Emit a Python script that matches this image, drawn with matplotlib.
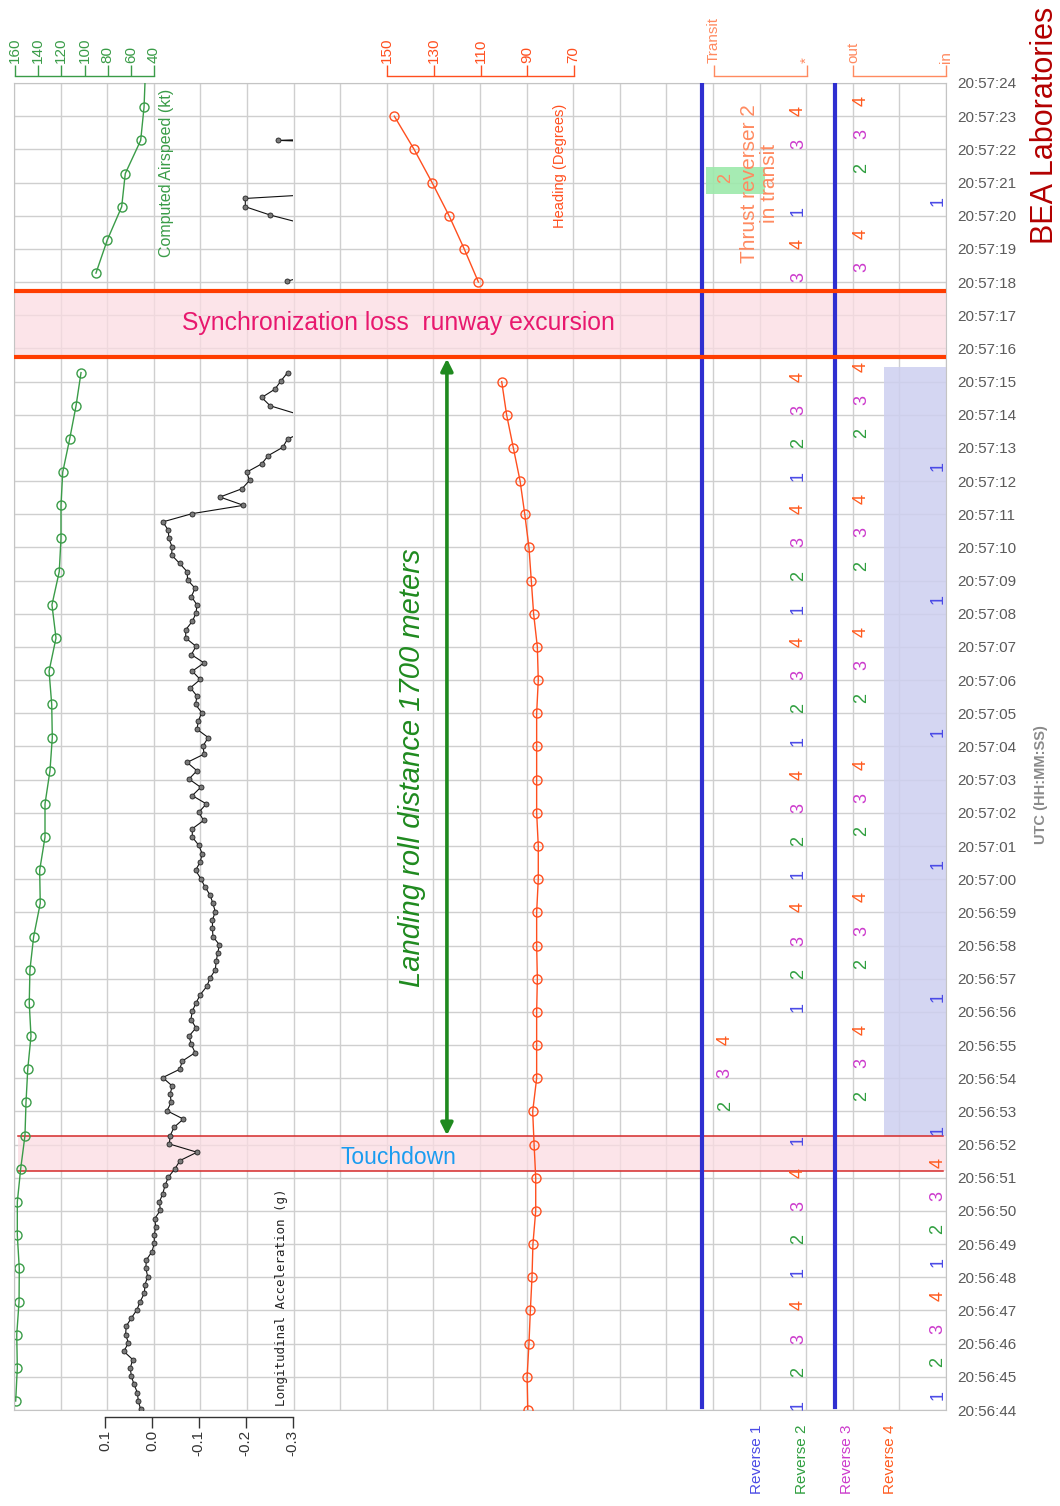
import matplotlib
matplotlib.use("Agg")
import matplotlib.pyplot as plt
import numpy as np
from matplotlib.patches import Rectangle

plt.rcParams['font.family'] = ['Liberation Sans', 'DejaVu Sans']
plt.rcParams['axes.unicode_minus'] = False

# ---------------------------------------------------------------- data
TIME_LABELS = ["20:56:44", "20:56:45", "20:56:46", "20:56:47", "20:56:48", "20:56:49",
               "20:56:50", "20:56:51", "20:56:52", "20:56:53", "20:56:54", "20:56:55",
               "20:56:56", "20:56:57", "20:56:58", "20:56:59", "20:57:00", "20:57:01",
               "20:57:02", "20:57:03", "20:57:04", "20:57:05", "20:57:06", "20:57:07",
               "20:57:08", "20:57:09", "20:57:10", "20:57:11", "20:57:12", "20:57:13",
               "20:57:14", "20:57:15", "20:57:16", "20:57:17", "20:57:18", "20:57:19",
               "20:57:20", "20:57:21", "20:57:22", "20:57:23", "20:57:24"]

# Computed airspeed (kt), 1 Hz, sampled at second + 0.27
AS_SECONDS_LOW = list(range(0, 32))
AS_LOW = [159.4, 158.0, 158.5, 156.5, 156.3, 158.0, 158.0, 155.1, 151.4, 150.5,
          149.0, 146.2, 147.7, 147.1, 143.9, 138.2, 138.7, 134.1, 134.1, 129.8,
          127.8, 128.3, 130.6, 124.6, 128.1, 121.8, 120.3, 120.3, 118.8, 112.8,
          107.3, 103.0]
AS_SECONDS_HIGH = [34, 35, 36, 37, 38, 39, 40]
AS_HIGH = [90.1, 80.3, 67.9, 64.8, 51.5, 48.6, 47.5]
AS_PHASE = 0.27

# Heading (deg), 1 Hz
HDG_SECONDS_LOW = list(range(0, 32))
HDG_LOW = [89.7, 90.0, 89.2, 88.6, 87.9, 87.5, 86.3, 86.3, 87.0, 87.6,
           85.9, 85.9, 85.9, 85.6, 85.9, 85.9, 85.2, 85.2, 85.9, 85.9,
           85.9, 85.9, 85.2, 85.6, 87.2, 88.2, 89.2, 91.0, 93.0, 95.9,
           98.8, 100.9]
HDG_SECONDS_HIGH = [34, 35, 36, 37, 38, 39]
HDG_HIGH = [110.9, 117.0, 123.5, 130.8, 138.5, 147.0]

# Longitudinal acceleration (g), 4 Hz
ACC_START_LOW = 0.02
ACC_LOW = [0.024, 0.029, 0.031, 0.038, 0.044, 0.046, 0.041, 0.060, 0.050, 0.056,
           0.055, 0.044, 0.032, 0.025, 0.016, 0.015, 0.009, 0.013, 0.012, 0.000,
           -0.005, -0.005, -0.008, -0.006, -0.018, -0.016, -0.023, -0.028, -0.035, -0.049,
           -0.060, -0.096, -0.037, -0.039, -0.047, -0.067, -0.032, -0.041,
           -0.039, -0.043, -0.023, -0.059, -0.065, -0.092, -0.084, -0.079, -0.094, -0.083,
           -0.086, -0.094, -0.103, -0.117, -0.124, -0.135, -0.137, -0.140, -0.144, -0.130,
           -0.129, -0.129, -0.135, -0.130, -0.124, -0.113, -0.104, -0.093, -0.103, -0.107,
           -0.100, -0.086, -0.086, -0.110, -0.100, -0.116, -0.086, -0.104, -0.079, -0.096,
           -0.075, -0.111, -0.109,
           -0.120, -0.096, -0.099, -0.106, -0.093, -0.096, -0.082, -0.103, -0.086, -0.111,
           -0.084, -0.094, -0.072, -0.072, -0.086, -0.094, -0.096, -0.084, -0.092, -0.076,
           -0.075, -0.059, -0.042, -0.043, -0.036, -0.035, -0.023, -0.086, -0.195, -0.145,
           -0.192, -0.208, -0.202, -0.234, -0.248, -0.279, -0.289,
           -0.330, -0.360, -0.310,
           -0.252, -0.234, -0.262, -0.275, -0.289]
ACC_START_HIGH = 34.02
ACC_HIGH = [-0.287, -0.350, -0.600, -0.600, -0.600, -0.600, -0.600, -0.320,
            -0.252, -0.199, -0.199, -0.500, -0.600, -0.600, -0.600, -0.600,
            -0.800, -0.268, -0.800, -0.600, -0.600, -0.600, -0.600, -0.600]
ACC_RATE = 4.0

# Thrust reverser discretes (digit = reverser number sampled that second)
REV_SECONDS = list(range(0, 32)) + [34, 35, 36, 37, 38, 39]
REV_DIGITS = [1, 2, 3, 4, 1, 2, 3, 4, 1, 2, 3, 4, 1, 2, 3, 4,
              1, 2, 3, 4, 1, 2, 3, 4, 1, 2, 3, 4, 1, 2, 3, 4,
              3, 4, 1, 2, 3, 4]
TRANSIT_POS = ['*', '*', '*', '*', '*', '*', '*', '*', '*', 'Transit', 'Transit', 'Transit',
               '*', '*', '*', '*', '*', '*', '*', '*', '*', '*', '*', '*', '*', '*', '*', '*',
               '*', '*', '*', '*',
               '*', '*', '*', 'Transit', '*', '*']
STOW_POS = ['in', 'in', 'in', 'in', 'in', 'in', 'in', 'in', 'in', 'out', 'out', 'out',
            'in', 'out', 'out', 'out', 'in', 'out', 'out', 'out', 'in', 'out', 'out', 'out',
            'in', 'out', 'out', 'out', 'in', 'out', 'out', 'out',
            'out', 'out', 'in', 'out', 'out', 'out']
TRANSIT_TICKS = ['Transit', '*']
STOW_TICKS = ['out', 'in']
REV_LABELS = ['Reverse 1', 'Reverse 2', 'Reverse 3', 'Reverse 4']
HIGHLIGHT_SECOND = 37

AS_TICKS = [160, 140, 120, 100, 80, 60, 40]
HDG_TICKS = [150, 130, 110, 90, 70]
ACC_TICKS = [0.1, 0.0, -0.1, -0.2, -0.3]
ACC_TICK_LABELS = ['0.1', '0.0', '-0.1', '-0.2', '-0.3']

# events (seconds after 20:56:44)
SYNC_LOSS = (31.74, 33.73)
TOUCHDOWN = (7.2, 8.26)
REV_DEPLOYED = (8.26, 31.45)

# ---------------------------------------------------------------- layout / style
W, H = 1060, 1506
fig = plt.figure(figsize=(W / 100, H / 100), dpi=100)
PLOT_T, PLOT_B = 83, 1410


def px_rect(x0, x1):
    return [x0 / W, 1 - PLOT_B / H, (x1 - x0) / W, (PLOT_B - PLOT_T) / H]


C_AS = '#3a9c48'
C_HDG = '#ff4f1f'
C_REV = '#ff8a60'
C_DIG = {1: '#4a4ae6', 2: '#2e9e3e', 3: '#cc3acc', 4: '#ff5a1e'}
GRID = '#cfcfcf'

# main axes: grid, time labels, annotations
ax = fig.add_axes(px_rect(14, 946))
ax.set_xlim(0, 20)
ax.set_ylim(0, 40)
ax.set_xticks(np.arange(21))
ax.set_yticks(np.arange(41))
ax.grid(True, color=GRID, lw=1.0)
ax.set_axisbelow(True)
ax.tick_params(axis='x', length=0, labelbottom=False)
ax.yaxis.tick_right()
ax.set_yticklabels(TIME_LABELS)
ax.tick_params(axis='y', length=0, pad=8, labelsize=11, labelcolor='#5a5a5a')
for s in ax.spines.values():
    s.set_color('#c4c4c4')

# reverser deployed region (lavender)
ax.add_patch(Rectangle((18.67, REV_DEPLOYED[0]), 20 - 18.67, REV_DEPLOYED[1] - REV_DEPLOYED[0],
                       facecolor='#cdcff0', edgecolor='none', alpha=0.85, zorder=1))
# sync loss band
ax.axhspan(*SYNC_LOSS, facecolor='#fbdce2', alpha=0.75, zorder=1)
# touchdown band
ax.axhspan(*TOUCHDOWN, xmin=0.004, facecolor='#fbdce2', alpha=0.75, zorder=1)
for yv in TOUCHDOWN:
    ax.axhline(yv, xmin=0.004, xmax=0.997, color='#d42a2a', lw=1.1, zorder=3)

# blue separator lines
for xc in (14.76, 17.62):
    ax.axvline(xc, ymin=0.002, ymax=1, color='#2f2fd0', lw=3, zorder=3)
for yv in SYNC_LOSS:
    ax.axhline(yv, color='#ff3d00', lw=3, zorder=4)

# green highlight box
ax.add_patch(Rectangle((14.85, 36.64), 1.27, 0.84, facecolor='#9de9ab', edgecolor='none',
                       alpha=0.9, zorder=2))

# landing roll arrow
ax.annotate('', xy=(9.29, SYNC_LOSS[0] - 0.05), xytext=(9.29, TOUCHDOWN[1] + 0.02),
            arrowprops=dict(arrowstyle='<|-|>', color='#1f8a1f', lw=2.6,
                            mutation_scale=18, shrinkA=0, shrinkB=0), zorder=5)
ax.text(8.54, 19.35, 'Landing roll distance 1700 meters', rotation=90, color='#1f8a1f',
        fontsize=21, style='italic', ha='center', va='center', zorder=5)
ax.text(8.24, 32.77, 'Synchronization loss  runway excursion', color='#e8186e',
        fontsize=17.8, ha='center', va='center', zorder=5)
ax.text(8.26, 7.62, 'Touchdown', color='#1a9cf0', fontsize=16.5, ha='center', va='center',
        zorder=5)
ax.text(16.0, 36.98, 'Thrust reverser 2\nin transit', rotation=90, color=C_REV,
        fontsize=15, ha='center', va='center', linespacing=1.05, zorder=5,
        multialignment='center')
ax.text(11.72, 37.5, 'Heading (Degrees)', rotation=90, color=C_HDG, fontsize=10.5,
        ha='center', va='center')
ax.text(3.28, 37.3, 'Computed Airspeed (kt)', rotation=90, color=C_AS, fontsize=11.5,
        ha='center', va='center')
ax.text(5.75, 3.41, 'Longitudinal Acceleration (g)', rotation=90, color='#222222',
        fontsize=9, family='DejaVu Sans Mono', ha='center', va='center')


def overlay(x0, x1):
    a = fig.add_axes(px_rect(x0, x1))
    a.patch.set_visible(False)
    a.set_ylim(0, 40)
    a.set_yticks([])
    for s in a.spines.values():
        s.set_visible(False)
    return a


def scale_bar(a, side, ticks, labels, color):
    sp = a.spines[side]
    sp.set_visible(True)
    sp.set_position(('outward', 7 * 0.72))
    sp.set_color(color)
    sp.set_linewidth(1.0)
    a.set_xticks(ticks)
    a.set_xticklabels(labels)
    if side == 'top':
        a.xaxis.tick_top()
    else:
        a.xaxis.tick_bottom()
    a.tick_params(axis='x', direction='out', length=8, width=1, color=color,
                  labelcolor=color, labelsize=11, pad=1.5, labelrotation=90)


# airspeed
ax_as = overlay(15, 154)
ax_as.set_xlim(AS_TICKS[0], AS_TICKS[-1])
scale_bar(ax_as, 'top', AS_TICKS, [str(v) for v in AS_TICKS], C_AS)
for secs, vals in ((AS_SECONDS_LOW, AS_LOW), (AS_SECONDS_HIGH, AS_HIGH)):
    ax_as.plot(vals, np.array(secs) + AS_PHASE, color=C_AS, lw=1.0, marker='o',
               mfc='none', mec=C_AS, ms=6.5, mew=1.0)

# acceleration
ax_acc = overlay(105, 292.7)
ax_acc.set_xlim(ACC_TICKS[0], ACC_TICKS[-1])
scale_bar(ax_acc, 'bottom', ACC_TICKS, ACC_TICK_LABELS, '#333333')
for start, vals in ((ACC_START_LOW, ACC_LOW), (ACC_START_HIGH, ACC_HIGH)):
    tt = start + np.arange(len(vals)) / ACC_RATE
    ax_acc.plot(vals, tt, color='#111111', lw=0.8, marker='o', ms=3.6,
                mfc='#7a7a7a', mec='#222222', mew=0.6)

# heading
ax_hdg = overlay(387.3, 573.7)
ax_hdg.set_xlim(HDG_TICKS[0], HDG_TICKS[-1])
scale_bar(ax_hdg, 'top', HDG_TICKS, [str(v) for v in HDG_TICKS], C_HDG)
for secs, vals in ((HDG_SECONDS_LOW, HDG_LOW), (HDG_SECONDS_HIGH, HDG_HIGH)):
    ax_hdg.plot(vals, secs, color=C_HDG, lw=1.0, marker='o', mfc='none', mec=C_HDG,
                ms=6.5, mew=1.0)

# reverser discretes
ax_tr = overlay(714, 807)
ax_tr.set_xlim(0, 1)
scale_bar(ax_tr, 'top', [0, 1], TRANSIT_TICKS, C_REV)
ax_st = overlay(853, 946.5)
ax_st.set_xlim(0, 1)
scale_bar(ax_st, 'top', [0, 1], STOW_TICKS, C_REV)
for sec, dig, tp, sp in zip(REV_SECONDS, REV_DIGITS, TRANSIT_POS, STOW_POS):
    xv = TRANSIT_TICKS.index(tp)
    col = C_REV if sec == HIGHLIGHT_SECOND else C_DIG[dig]
    ax_tr.text(xv + (0.03 if xv == 0 else 0), sec, str(dig), rotation=90, color=col,
               fontsize=13, ha='left' if xv == 0 else 'right', va='bottom', zorder=6)
    xv = STOW_TICKS.index(sp)
    ax_st.text(xv, sec + 0.3, str(dig), rotation=90, color=C_DIG[dig], fontsize=13,
               ha='left' if xv == 0 else 'right', va='bottom', zorder=6)

# figure level texts
fig.text(1045 / W, 1 - 125 / H, 'BEA Laboratories', rotation=90, color='#b30000',
         fontsize=22, ha='center', va='center')
fig.text(1041 / W, 1 - 785 / H, 'UTC (HH:MM:SS)', rotation=90, color='#8a8a8a',
         fontsize=10.5, fontweight='bold', ha='center', va='center')
for xp, lab, dig in zip((757, 802, 847, 890), REV_LABELS, (1, 2, 3, 4)):
    fig.text(xp / W, 1 - 1425 / H, lab, rotation=90, color=C_DIG[dig], fontsize=11,
             ha='center', va='top')

fig.savefig('out.png', dpi=100)
